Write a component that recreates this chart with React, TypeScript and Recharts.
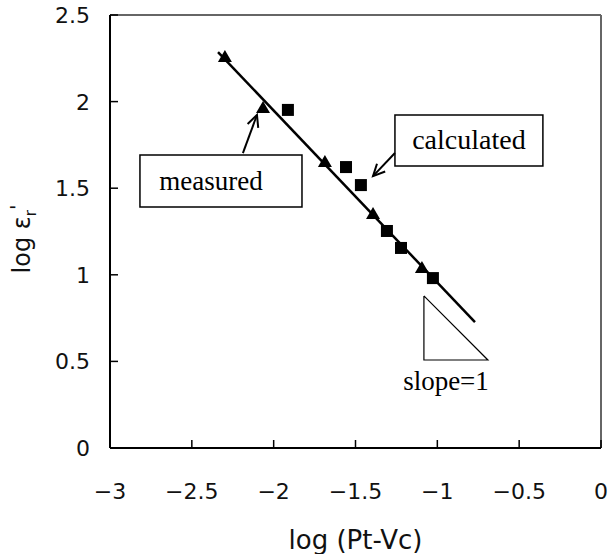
import {
  ComposedChart, Scatter, XAxis, YAxis, ReferenceLine, ReferenceArea, ReferenceDot,
} from 'recharts';

// axis ticks
const xTicks = [-3, -2.5, -2, -1.5, -1, -0.5, 0];
const yTicks = [0, 0.5, 1, 1.5, 2, 2.5];

// measured (triangles)
const measuredX = [-2.298, -2.065, -1.687, -1.393, -1.094];
const measuredY = [2.257, 1.963, 1.651, 1.351, 1.039];

// calculated (squares)
const calculatedX = [-1.913, -1.558, -1.467, -1.308, -1.222, -1.027];
const calculatedY = [1.952, 1.622, 1.518, 1.253, 1.155, 0.981];

// fitted line, slope -1
const fitX = [-2.34, -0.77];
const fitY = [2.286, 0.727];

// slope indicator triangle
const slopeX = [-1.082, -1.082, -0.691, -1.082];
const slopeY = [0.878, 0.508, 0.508, 0.878];

const toPoints = (xs: number[], ys: number[]) => xs.map((x, i) => ({ x, y: ys[i] }));

const measuredData = toPoints(measuredX, measuredY);
const calculatedData = toPoints(calculatedX, calculatedY);
const fitData = toPoints(fitX, fitY);
const slopeData = toPoints(slopeX, slopeY);

const PLOT_LEFT = 110;
const PLOT_BOTTOM = 448;
const sans = '"DejaVu Sans", sans-serif';
const serif = '"Liberation Serif", "Times New Roman", serif';

const fmt = (v: number) => (v < 0 ? '\u2212' + Math.abs(v) : String(v));

const XTick = (props: any) => {
  const { x, payload } = props;
  return (
    <g>
      <line x1={x} x2={x} y1={PLOT_BOTTOM} y2={PLOT_BOTTOM - 8} stroke="#000" strokeWidth={1.5} />
      <text x={x} y={499} textAnchor="middle" fontFamily={sans} fontSize={22} fill="#111">
        {fmt(payload.value)}
      </text>
    </g>
  );
};

const YTick = (props: any) => {
  const { y, payload } = props;
  return (
    <g>
      <line x1={PLOT_LEFT} x2={PLOT_LEFT + 8} y1={y} y2={y} stroke="#000" strokeWidth={1.5} />
      <text x={90} y={y + 8} textAnchor="end" fontFamily={sans} fontSize={22} fill="#111">
        {fmt(payload.value)}
      </text>
    </g>
  );
};

const triangle = (p: any) => (
  <polygon
    points={`${p.cx},${p.cy - 7} ${p.cx - 7},${p.cy + 5} ${p.cx + 7},${p.cy + 5}`}
    fill="#000"
  />
);

const square = (p: any) => <rect x={p.cx - 6} y={p.cy - 6} width={12} height={12} fill="#000" />;

const noShape = () => <g />;

const arrow = (p: any) => {
  const { x1, y1, x2, y2 } = p;
  const a = Math.atan2(y2 - y1, x2 - x1);
  const len = 13;
  const spread = 0.45;
  const hx1 = x2 - len * Math.cos(a - spread);
  const hy1 = y2 - len * Math.sin(a - spread);
  const hx2 = x2 - len * Math.cos(a + spread);
  const hy2 = y2 - len * Math.sin(a + spread);
  return (
    <g>
      <line x1={x1} y1={y1} x2={x2} y2={y2} stroke="#000" strokeWidth={2} />
      <polyline points={`${hx1},${hy1} ${x2},${y2} ${hx2},${hy2}`} fill="none" stroke="#000" strokeWidth={2} />
    </g>
  );
};

const boxText = (text: string, size: number, dx: number) => (props: any) => {
  const vb = props.viewBox;
  return (
    <text
      x={vb.x + vb.width / 2 + dx}
      y={vb.y + vb.height / 2 + 9}
      textAnchor="middle"
      fontFamily={serif}
      fontSize={size}
      fill="#000"
    >
      {text}
    </text>
  );
};

const slopeLabel = (props: any) => {
  const vb = props.viewBox;
  return (
    <text x={vb.x} y={vb.y} textAnchor="middle" fontFamily={serif} fontSize={27} fill="#000">
      slope=1
    </text>
  );
};

const xTitle = (props: any) => {
  const vb = props.viewBox;
  return (
    <text x={vb.x + vb.width / 2} y={549} textAnchor="middle" fontFamily={sans} fontSize={26} fill="#111">
      log (Pt-Vc)
    </text>
  );
};

const yTitle = () => (
  <text
    transform="rotate(-90, 30, 239)"
    x={30}
    y={239}
    textAnchor="middle"
    fontFamily={sans}
    fontSize={24}
    fill="#111"
  >
    log ε
    <tspan fontSize={15} dy={6}>r</tspan>
    <tspan fontSize={20} dy={-12}>'</tspan>
  </text>
);

export default function App() {
  return (
    <div style={{ position: 'absolute', left: 0, top: 0, background: '#fff' }}>
      <ComposedChart width={611} height={554} margin={{ top: 15, right: 10, left: 0, bottom: 0 }}>
        <XAxis
          type="number"
          dataKey="x"
          domain={[-3, 0]}
          ticks={xTicks}
          height={106}
          allowDataOverflow
          tickLine={false}
          axisLine={{ stroke: '#000', strokeWidth: 2 }}
          tick={<XTick />}
          label={{ content: xTitle }}
        />
        <YAxis
          type="number"
          dataKey="y"
          domain={[0, 2.5]}
          ticks={yTicks}
          width={110}
          allowDataOverflow
          tickLine={false}
          axisLine={{ stroke: '#000', strokeWidth: 2 }}
          tick={<YTick />}
          label={{ content: yTitle }}
        />
        <ReferenceLine y={2.5} stroke="#666" strokeWidth={2} />
        <ReferenceLine x={0} stroke="#666" strokeWidth={2} />

        <Scatter data={slopeData} line={{ stroke: '#000', strokeWidth: 1.2 }} shape={noShape} isAnimationActive={false} />
        <Scatter data={fitData} line={{ stroke: '#000', strokeWidth: 2.5 }} shape={noShape} isAnimationActive={false} />
        <Scatter data={measuredData} shape={triangle} isAnimationActive={false} />
        <Scatter data={calculatedData} shape={square} isAnimationActive={false} />

        <ReferenceArea
          x1={-2.817} x2={-1.827} y1={1.391} y2={1.692}
          fill="#fff" fillOpacity={1} stroke="#000" strokeWidth={1.5}
          label={{ content: boxText('measured', 27, -10) }}
        />
        <ReferenceArea
          x1={-1.259} x2={-0.355} y1={1.628} y2={1.923}
          fill="#fff" fillOpacity={1} stroke="#000" strokeWidth={1.5}
          label={{ content: boxText('calculated', 28, 0) }}
        />
        <ReferenceLine segment={[{ x: -2.188, y: 1.703 }, { x: -2.102, y: 1.923 }]} shape={arrow} />
        <ReferenceLine segment={[{ x: -1.259, y: 1.703 }, { x: -1.393, y: 1.57 }]} shape={arrow} />
        <ReferenceDot x={-0.947} y={0.335} r={0} fill="none" stroke="none" label={{ content: slopeLabel }} />
      </ComposedChart>
    </div>
  );
}
